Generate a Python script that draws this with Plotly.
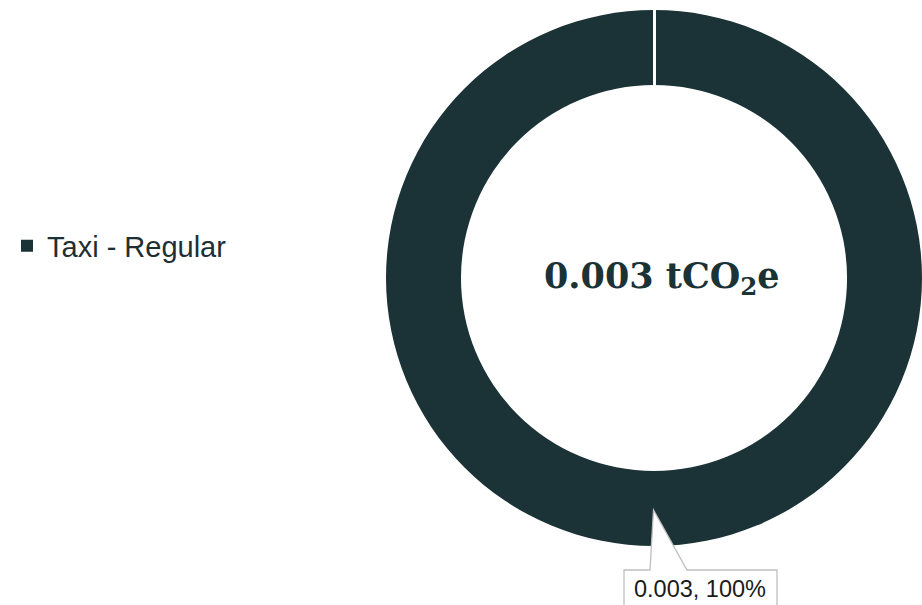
import plotly.graph_objects as go

# ---- data ----
categories = ["Taxi - Regular"]
values = [0.003]
colors = ["#1b3236"]
unit_label = "tCO<sub>2</sub>e"

W, H = 922, 605
total = sum(values)

def px(x):
    return x / W

def py(y):
    return 1 - y / H

fig = go.Figure()
fig.add_trace(go.Pie(
    labels=categories,
    values=values,
    hole=0.72,
    sort=False,
    direction="clockwise",
    rotation=0,
    textinfo="none",
    hoverinfo="label+value+percent",
    marker=dict(colors=colors, line=dict(width=0)),
    domain=dict(x=[px(386), 1.0], y=[py(546.5), py(9.5)]),
    showlegend=True,
))

shapes = []
# white seam at slice start (top)
shapes.append(dict(type="line", xref="paper", yref="paper",
                   x0=px(654.5), x1=px(654.5), y0=py(0), y1=py(88),
                   line=dict(color="white", width=3)))
# callout box with pointer
pts = [(624, 610), (624, 570), (650, 570), (653.5, 510), (687, 570), (777, 570), (777, 610)]
path = "M " + " L ".join(f"{px(x):.5f},{py(y):.5f}" for x, y in pts)
shapes.append(dict(type="path", xref="paper", yref="paper", path=path,
                   fillcolor="white", line=dict(color="#bfbfbf", width=1.3)))

pct = values[0] / total * 100
annotations = [
    dict(x=px(662), y=py(278), xref="paper", yref="paper", showarrow=False,
         xanchor="center", yanchor="middle",
         text=f"<b>{total:.3f} {unit_label}</b>",
         font=dict(family="DejaVu Serif", size=35, color="#1b3236")),
    dict(x=px(700), y=py(589), xref="paper", yref="paper", showarrow=False,
         xanchor="center", yanchor="middle",
         text=f"{values[0]:.3f}, {pct:.0f}%",
         font=dict(family="Arial", size=23.5, color="#1a1a1a")),
]

fig.update_layout(
    width=W, height=H,
    margin=dict(l=0, r=0, t=0, b=0),
    paper_bgcolor="white",
    plot_bgcolor="white",
    shapes=shapes,
    annotations=annotations,
    legend=dict(x=px(7), y=py(246), xanchor="left", yanchor="middle",
                font=dict(family="Arial", size=29, color="#1e2f33"),
                bgcolor="rgba(0,0,0,0)"),
)

fig.write_html("out.html", config={"displayModeBar": False},
               post_script="document.body.style.margin='0';document.body.style.overflow='hidden';")
